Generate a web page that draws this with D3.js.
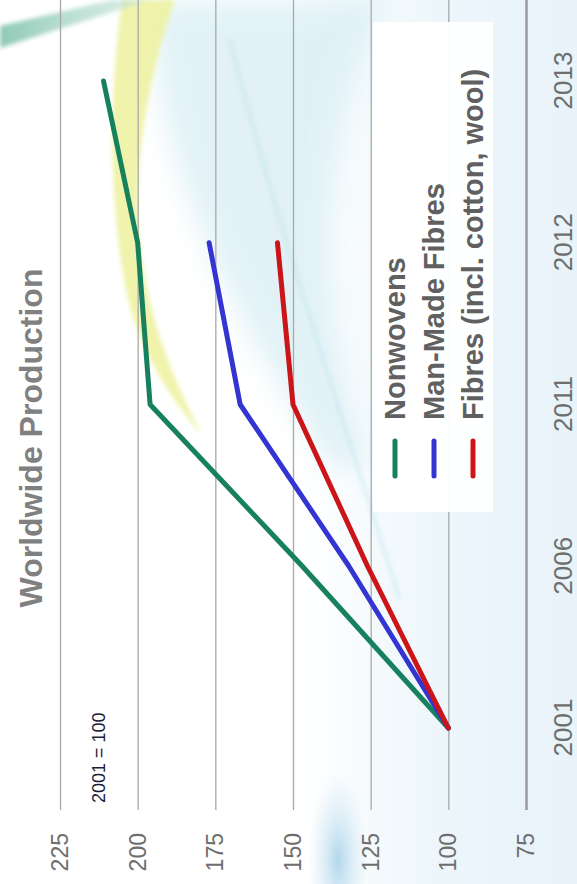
<!DOCTYPE html>
<html>
<head>
<meta charset="utf-8">
<script src="https://cdn.jsdelivr.net/npm/d3@7"></script>
<style>
  html, body { margin: 0; padding: 0; background: #fff; }
  svg { display: block; }
</style>
</head>
<body>
<div id="vis-tag"></div>
<script>
// data (index, 2001 = 100)
const years = ["2001", "2006", "2011", "2012", "2013"];
const nonwovens = [100, 147, 196, 200, 211];
const manMadeFibres = [100, 132, 167, 177, null];
const fibres = [100, 126, 150, 155, null];
const yTicks = [75, 100, 125, 150, 175, 200, 225];
const seriesNames = ["Nonwovens", "Man-Made Fibres", "Fibres (incl. cotton, wool)"];
const seriesColors = ["#17805c", "#3434d2", "#cb1519"];
const title = "Worldwide Production";
const baseNote = "2001 = 100";

const width = 577;
const height = 884;
// the chart is laid out upright (884 wide, 577 high) and then turned 90° to the left
const W = height;
const H = width;

const svg = d3.select("#vis-tag")
  .append("svg")
  .attr("width", width)
  .attr("height", height);

// ---- background decoration (page coords) ----
const defs = svg.append("defs");
defs.append("filter").attr("id", "blur").attr("filterUnits", "userSpaceOnUse")
  .attr("x", -100).attr("y", -100).attr("width", width + 200).attr("height", height + 200)
  .append("feGaussianBlur").attr("stdDeviation", 14);
defs.append("filter").attr("id", "blurS").attr("filterUnits", "userSpaceOnUse")
  .attr("x", -100).attr("y", -100).attr("width", width + 200).attr("height", height + 200)
  .append("feGaussianBlur").attr("stdDeviation", 2);

const bgGrad = defs.append("linearGradient").attr("id", "bgGrad").attr("x1", 0).attr("x2", 1).attr("y1", 0).attr("y2", 0);
bgGrad.append("stop").attr("offset", "0%").attr("stop-color", "#dceef6").attr("stop-opacity", 0);
bgGrad.append("stop").attr("offset", "40%").attr("stop-color", "#dceef6").attr("stop-opacity", 0.5);
bgGrad.append("stop").attr("offset", "100%").attr("stop-color", "#e2eff8").attr("stop-opacity", 0.85);

const tealGrad = defs.append("linearGradient").attr("id", "tealGrad").attr("x1", 0).attr("x2", 1).attr("y1", 0).attr("y2", 0);
tealGrad.append("stop").attr("offset", "0%").attr("stop-color", "#8fcab6");
tealGrad.append("stop").attr("offset", "100%").attr("stop-color", "#c9e7dc").attr("stop-opacity", 0.6);

const glow = defs.append("radialGradient").attr("id", "glow");
glow.append("stop").attr("offset", "0%").attr("stop-color", "#9fcde8").attr("stop-opacity", 0.8);
glow.append("stop").attr("offset", "100%").attr("stop-color", "#cfe6f3").attr("stop-opacity", 0);

const bg = svg.append("g");
bg.append("rect").attr("width", width).attr("height", height).attr("fill", "#fff");
bg.append("rect").attr("x", 300).attr("y", -40).attr("width", 320).attr("height", height + 80)
  .attr("fill", "url(#bgGrad)").attr("filter", "url(#blur)");
// cyan swoosh across the top
bg.append("path")
  .attr("d", "M155,0 C145,120 215,300 335,470 L365,460 C320,320 315,150 385,0 Z")
  .attr("fill", "#c9e7ef").attr("opacity", 0.55).attr("filter", "url(#blur)");
bg.append("path")
  .attr("d", "M230,40 C270,200 330,380 400,600")
  .attr("fill", "none").attr("stroke", "#b4dfe9").attr("stroke-width", 3).attr("opacity", 0.5).attr("filter", "url(#blurS)");
// blue glow near the bottom
bg.append("ellipse").attr("cx", 338).attr("cy", 860).attr("rx", 30).attr("ry", 90)
  .attr("fill", "url(#glow)");
// yellow crescent
bg.append("path")
  .attr("d", "M122,0 L175,0 C150,70 136,150 138,220 C142,300 168,370 202,435 C165,392 134,340 124,280 C110,200 108,100 122,0 Z")
  .attr("fill", "#eef2a2").attr("opacity", 0.9).attr("filter", "url(#blurS)");
// teal stroke in the corner
bg.append("path")
  .attr("d", "M0,26 L112,0 L150,0 L0,48 Z")
  .attr("fill", "url(#tealGrad)").attr("filter", "url(#blurS)");

// ---- chart (upright coords) ----
const g = svg.append("g").attr("transform", `translate(0, ${height}) rotate(-90)`);

const x = d3.scalePoint().domain(years).range([156, 803]);
const y = d3.scaleLinear().domain([75, 225]).range([526, 60]);

// gridlines + value labels
const yAxis = g.append("g")
  .attr("transform", "translate(74, 0)")
  .call(d3.axisLeft(y).tickValues(yTicks).tickSize(-(W - 74)).tickPadding(23));
yAxis.select(".domain").remove();
yAxis.selectAll(".tick line")
  .attr("stroke", (d) => (d === 75 ? "#9a9a9a" : "#a8a8a8"))
  .attr("stroke-width", (d) => (d === 75 ? 2.5 : 1.3));
yAxis.selectAll(".tick text")
  .attr("font-family", "Liberation Sans, Arial, sans-serif")
  .attr("font-size", 23)
  .attr("fill", "#6e6e6e");

// year labels
const xAxis = g.append("g")
  .attr("transform", `translate(0, ${y(75)})`)
  .call(d3.axisBottom(x).tickSize(0).tickPadding(28));
xAxis.select(".domain").remove();
xAxis.selectAll(".tick text")
  .attr("font-family", "Liberation Sans, Arial, sans-serif")
  .attr("font-size", 26)
  .attr("fill", "#6e6e6e");

// title
g.append("text")
  .attr("x", 446)
  .attr("y", 42)
  .attr("text-anchor", "middle")
  .attr("font-family", "Liberation Sans, Arial, sans-serif")
  .attr("font-weight", "bold")
  .attr("font-size", 32)
  .attr("fill", "#808080")
  .text(title);

// base note
g.append("text")
  .attr("x", 81)
  .attr("y", 105)
  .attr("font-family", "Liberation Sans, Arial, sans-serif")
  .attr("font-size", 18)
  .attr("fill", "#1c1c3a")
  .text(baseNote);

// lines
const series = [nonwovens, manMadeFibres, fibres];
const line = d3.line()
  .defined((d) => d != null)
  .x((d, i) => x(years[i]))
  .y((d) => y(d));

series.forEach((vals, k) => {
  g.append("path")
    .datum(vals)
    .attr("fill", "none")
    .attr("stroke", seriesColors[k])
    .attr("stroke-width", 5)
    .attr("stroke-linecap", "round")
    .attr("stroke-linejoin", "round")
    .attr("d", line);
});

// legend
const legend = g.append("g");
legend.append("rect")
  .attr("x", 372).attr("y", 373)
  .attr("width", 490).attr("height", 120)
  .attr("fill", "#fff").attr("opacity", 0.95);
const rowY = [395, 434, 473];
seriesNames.forEach((name, k) => {
  legend.append("line")
    .attr("x1", 408).attr("x2", 443)
    .attr("y1", rowY[k]).attr("y2", rowY[k])
    .attr("stroke", seriesColors[k])
    .attr("stroke-width", 5)
    .attr("stroke-linecap", "round");
  legend.append("text")
    .attr("x", 464)
    .attr("y", rowY[k])
    .attr("dy", "0.35em")
    .attr("font-family", "Liberation Sans, Arial, sans-serif")
    .attr("font-weight", "bold")
    .attr("font-size", 29)
    .attr("fill", "#606060")
    .text(name);
});
</script>
</body>
</html>
